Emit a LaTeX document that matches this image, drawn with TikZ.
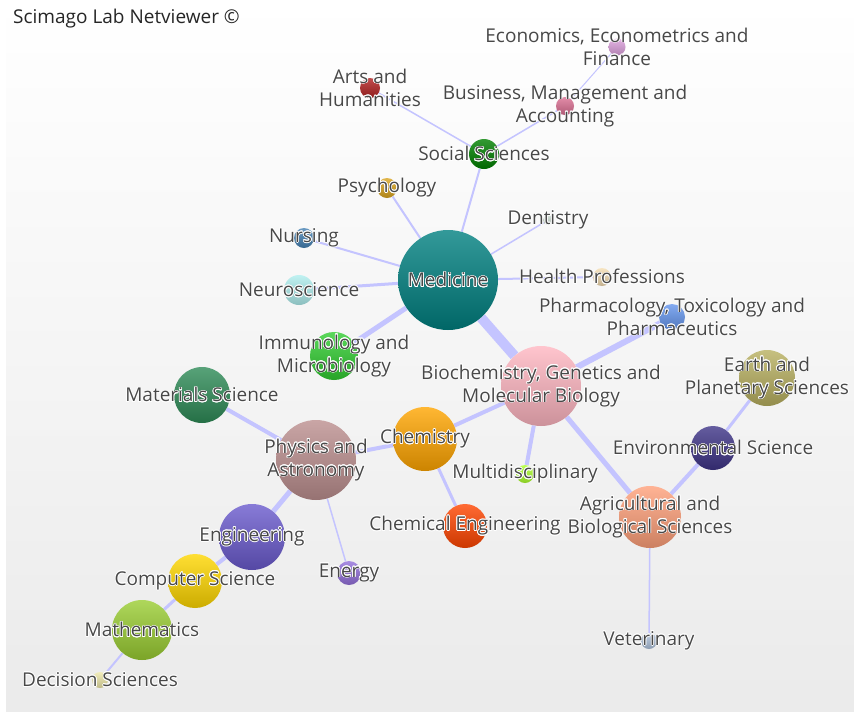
\documentclass[tikz,border=0pt]{standalone}
\usepackage{fontspec}
\setmainfont{Open Sans}
\usepackage[copies]{contour}
\contourlength{0.7pt}
\usetikzlibrary{positioning,backgrounds}

\definecolor{textgray}{RGB}{72,72,72}
\definecolor{linkblue}{RGB}{196,196,255}
\definecolor{medteal}{RGB}{0,128,128}
\definecolor{biopink}{RGB}{255,182,193}
\definecolor{socgreen}{RGB}{0,128,0}
\definecolor{artsred}{RGB}{178,34,34}
\definecolor{buspink}{RGB}{219,112,147}
\definecolor{ecoviolet}{RGB}{221,160,221}
\definecolor{psygold}{RGB}{218,165,32}
\definecolor{denpale}{RGB}{205,220,210}
\definecolor{heawheat}{RGB}{245,222,179}
\definecolor{phablue}{RGB}{100,149,237}
\definecolor{nursteel}{RGB}{70,130,180}
\definecolor{neuturq}{RGB}{175,238,238}
\definecolor{immlime}{RGB}{50,205,50}
\definecolor{matsea}{RGB}{46,139,87}
\definecolor{phyrosy}{RGB}{188,143,143}
\definecolor{cheorange}{RGB}{255,165,0}
\definecolor{mulgreen}{RGB}{173,255,47}
\definecolor{chengred}{RGB}{255,69,0}
\definecolor{earkhaki}{RGB}{184,176,96}
\definecolor{envslate}{RGB}{62,52,135}
\definecolor{agrsalmon}{RGB}{255,160,122}
\definecolor{vetsteel}{RGB}{176,196,222}
\definecolor{engslate}{RGB}{106,90,205}
\definecolor{enerpurple}{RGB}{147,112,219}
\definecolor{comgold}{RGB}{255,215,0}
\definecolor{mathgreen}{RGB}{154,205,50}
\definecolor{decpale}{RGB}{238,232,170}

\newcommand\halo[1]{\contour{white}{#1}}

\begin{document}
\begin{tikzpicture}[
    x=1pt, y=-1pt,
    subject/.style 2 args={
        circle,
        inner sep=0pt,
        minimum size=#1,
        top color=#2!80!white,
        bottom color=#2!80!black
    },
    lbl/.style={
        text=textgray,
        font=\fontsize{19}{23}\selectfont,
        align=center,
        inner sep=0pt
    },
    link/.style={draw=linkblue, line width=#1}
]
\useasboundingbox (0,0) rectangle (854,713);
\begin{scope}[on background layer]
\shade[top color=white, bottom color=black!8] (6,0) rectangle (854,711);
\end{scope}

\node[lbl, anchor=west, text=black!85] (title) at (13,19) {Scimago Lab Netviewer ©};

% subject areas
\node[subject={100pt}{medteal}, label={[lbl]center:\halo{Medicine}}] (med) at (448,280) {};
\node[subject={80pt}{biopink}, label={[lbl]center:{\halo{Biochemistry, Genetics and}\\\halo{Molecular Biology}}}] (bio) at (541,386) {};
\node[subject={30pt}{socgreen}, label={[lbl]center:\halo{Social Sciences}}] (soc) at (484,154) {};
\node[subject={20pt}{artsred}, label={[lbl]center:{\halo{Arts and}\\\halo{Humanities}}}] (arts) at (370,88) {};
\node[subject={18pt}{buspink}, label={[lbl]center:{\halo{Business, Management and}\\\halo{Accounting}}}] (bus) at (565,106) {};
\node[subject={17pt}{ecoviolet}, label={[lbl]center:{\halo{Economics, Econometrics and}\\\halo{Finance}}}] (eco) at (617,47) {};
\node[subject={20pt}{psygold}, label={[lbl]center:\halo{Psychology}}] (psy) at (387,188) {};
\node[subject={10pt}{denpale}, label={[lbl]center:\halo{Dentistry}}] (den) at (548,220) {};
\node[subject={18pt}{heawheat}, label={[lbl]center:\halo{Health Professions}}] (hea) at (602,277) {};
\node[subject={26pt}{phablue}, label={[lbl]center:{\halo{Pharmacology, Toxicology and}\\\halo{Pharmaceutics}}}] (pha) at (672,317) {};
\node[subject={20pt}{nursteel}, label={[lbl]center:\halo{Nursing}}] (nur) at (304,238) {};
\node[subject={30pt}{neuturq}, label={[lbl]center:\halo{Neuroscience}}] (neu) at (299,290) {};
\node[subject={48pt}{immlime}, label={[lbl]center:{\halo{Immunology and}\\\halo{Microbiology}}}] (imm) at (334,356) {};
\node[subject={56pt}{matsea}, label={[lbl]center:\halo{Materials Science}}] (mat) at (202,395) {};
\node[subject={80pt}{phyrosy}, label={[lbl]center:{\halo{Physics and}\\\halo{Astronomy}}}] (phy) at (316,460) {};
\node[subject={64pt}{cheorange}, label={[lbl]center:\halo{Chemistry}}] (che) at (425,439) {};
\node[subject={18pt}{mulgreen}, label={[lbl]center:\halo{Multidisciplinary}}] (mul) at (525,474) {};
\node[subject={44pt}{chengred}, label={[lbl]center:\halo{Chemical Engineering}}] (cheng) at (465,526) {};
\node[subject={56pt}{earkhaki}, label={[lbl]center:{\halo{Earth and}\\\halo{Planetary Sciences}}}] (ear) at (767,378) {};
\node[subject={44pt}{envslate}, label={[lbl]center:\halo{Environmental Science}}] (env) at (713,448) {};
\node[subject={62pt}{agrsalmon}, label={[lbl]center:{\halo{Agricultural and}\\\halo{Biological Sciences}}}] (agr) at (650,517) {};
\node[subject={16pt}{vetsteel}, label={[lbl]center:\halo{Veterinary}}] (vet) at (649,641) {};
\node[subject={66pt}{engslate}, label={[lbl]center:\halo{Engineering}}] (eng) at (252,537) {};
\node[subject={24pt}{enerpurple}, label={[lbl]center:\halo{Energy}}] (ener) at (349,573) {};
\node[subject={54pt}{comgold}, label={[lbl]center:\halo{Computer Science}}] (com) at (195,581) {};
\node[subject={60pt}{mathgreen}, label={[lbl]center:\halo{Mathematics}}] (math) at (142,630) {};
\node[subject={16pt}{decpale}, label={[lbl]center:\halo{Decision Sciences}}] (dec) at (100,680) {};

% connections
\begin{scope}[on background layer]
\draw[link=10pt] (med) -- (bio);
\draw[link=2pt] (med) -- (soc);
\draw[link=1.5pt] (soc) -- (arts);
\draw[link=1.5pt] (soc) -- (bus);
\draw[link=1pt] (bus) -- (eco);
\draw[link=2pt] (med) -- (psy);
\draw[link=1.5pt] (med) -- (den);
\draw[link=2pt] (med) -- (hea);
\draw[link=2pt] (med) -- (nur);
\draw[link=3pt] (med) -- (neu);
\draw[link=5pt] (med) -- (imm);
\draw[link=6pt] (bio) -- (pha);
\draw[link=4pt] (bio) -- (che);
\draw[link=4pt] (bio) -- (mul);
\draw[link=5pt] (bio) -- (agr);
\draw[link=4pt] (agr) -- (env);
\draw[link=3pt] (env) -- (ear);
\draw[link=1.5pt] (agr) -- (vet);
\draw[link=4pt] (che) -- (phy);
\draw[link=3pt] (che) -- (cheng);
\draw[link=4pt] (phy) -- (mat);
\draw[link=5pt] (phy) -- (eng);
\draw[link=1.5pt] (phy) -- (ener);
\draw[link=4pt] (eng) -- (com);
\draw[link=3pt] (com) -- (math);
\draw[link=2pt] (math) -- (dec);
\end{scope}
\end{tikzpicture}
\end{document}
